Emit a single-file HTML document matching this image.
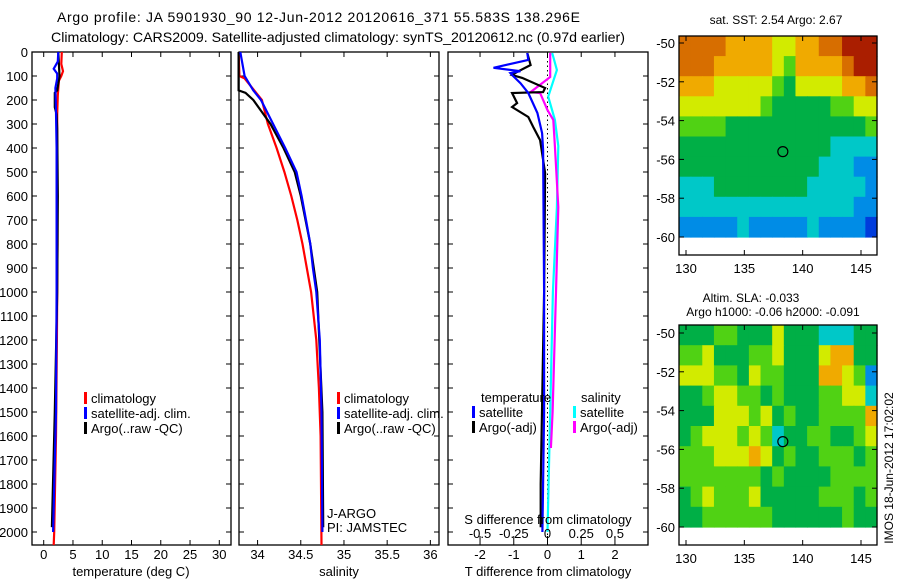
<!DOCTYPE html>
<html><head><meta charset="utf-8"><style>
html,body{margin:0;padding:0;background:#fff;}
svg{display:block;font-family:"Liberation Sans","DejaVu Sans",sans-serif;}
</style></head><body>
<svg id="fig" width="900" height="580" viewBox="0 0 900 580" xmlns="http://www.w3.org/2000/svg">
<rect width="900" height="580" fill="#fff"/>
<text x="57" y="22" font-size="14" textLength="523" lengthAdjust="spacing">Argo profile: JA 5901930_90 12-Jun-2012 20120616_371 55.583S 138.296E</text>
<text x="51" y="42" font-size="14" textLength="574" lengthAdjust="spacingAndGlyphs">Climatology: CARS2009. Satellite-adjusted climatology: synTS_20120612.nc (0.97d earlier)</text>
<g id="g"></g>
</svg>
<script>
// ---- data ----
const tClimDepth=[0,50,80,100,120,180,260,400,800,1200,1600,2000,2054];
const tClimVal=[3.1,3.0,3.3,3.0,2.6,2.4,2.3,2.3,2.35,2.25,2.1,1.8,1.7];
const tSatDepth=[0,40,70,90,110,150,250,400,1000,1500,2000];
const tSatVal=[2.5,2.4,1.7,2.3,2.3,2.0,2.1,2.2,2.2,2.1,1.6];
const tArgoDepth=[0,50,100,160,170,230,260,320,600,1000,1500,1980];
const tArgoVal=[2.5,2.6,2.7,2.3,1.9,1.9,2.2,2.3,2.4,2.3,1.9,1.4];
const sClimDepth=[0,100,110,200,300,400,500,600,700,800,900,1000,1200,1400,1600,2054];
const sClimVal=[33.78,33.79,33.85,34.05,34.12,34.22,34.31,34.39,34.46,34.52,34.57,34.62,34.68,34.71,34.73,34.74];
const sSatDepth=[0,100,160,200,300,400,500,600,700,800,900,1000,1200,1500,2000];
const sSatVal=[33.80,33.85,33.95,34.04,34.18,34.32,34.45,34.51,34.56,34.61,34.64,34.68,34.72,34.74,34.75];
const sArgoDepth=[0,160,170,200,250,300,400,500,600,800,1000,1500,1980];
const sArgoVal=[33.78,33.78,33.86,33.95,34.05,34.15,34.30,34.43,34.50,34.61,34.69,34.75,34.76];
const dTSatDepth=[4,33,66,80,88,96,130,171,254,338,408,1000,1500,2000];
const dTSatVal=[-0.6,-0.57,-1.6,-0.8,-1.1,-1.05,-0.8,-0.57,-0.3,-0.16,-0.13,-0.1,-0.1,-0.15];
const dTArgoDepth=[4,54,83,96,108,150,167,171,213,229,271,313,367,504,1000,1800,1980];
const dTArgoVal=[-0.6,-0.5,-0.9,-1.05,-0.75,-0.07,-0.13,-1.05,-0.9,-1.05,-0.57,-0.42,-0.22,-0.07,-0.1,-0.2,-0.2];
const dSSatDepth=[4,75,186,283,392,646,1000,1500,2000];
const dSSatVal=[0.035,0.07,0.005,0.055,0.08,0.07,0.04,0.02,0.0];
const dSArgoDepth=[4,104,167,171,242,283,392,646,1000,1500,1650];
const dSArgoVal=[0.02,0.02,-0.125,-0.055,0,0.043,0.055,0.08,0.063,0.038,0.025];
const depthTicks=[0,100,200,300,400,500,600,700,800,900,1000,1100,1200,1300,1400,1500,1600,1700,1800,1900,2000];
const tTicks=[0,5,10,15,20,25,30];
const sTicks=[34,34.5,35,35.5,36];
const dTTicks=[-2,-1,0,1,2];
const dSTicks=[-0.5,-0.25,0,0.25,0.5];
const sstGrid=["88887777667788999","88877777657777899","77766666546666778","66666665444445566","55554444444444445","44444444444443333","44444444444433322","33344444444333332","33333333333333322","22222322222322221"];
const slaGrid=["44455444644433344","55644455644467744","66655465544477652","44566554544455663","44466656454455557","45666565344554456","55566676454455545","55555554544445555","45655564444455545","44555555444444544"];
const lonTicks=[130,135,140,145];
const latTicks=[-50,-52,-54,-56,-58,-60];
const floatLon=138.3, floatLat=-55.6;
// ---- drawing ----
const NS="http://www.w3.org/2000/svg";
const G=document.getElementById('g');
function el(tag,attrs,parent,text){const e=document.createElementNS(NS,tag);for(const k in attrs)e.setAttribute(k,attrs[k]);if(text!==undefined)e.textContent=text;(parent||G).appendChild(e);return e;}
const top0=52,bot0=545;
const yD=d=>top0+d*0.24;
function panel(name,x0,x1,xmin,xmax){
  const g=el('g',{});
  
  
  return {g,x0,x1,xs:v=>x0+(v-xmin)/(xmax-xmin)*(x1-x0)};
}
function line(p,depth,vals,color,name,xs){
  const f=xs||p.xs;
  const pts=depth.map((d,i)=>f(vals[i]).toFixed(1)+','+yD(d).toFixed(1)).join(' ');
  const e=el('polyline',{points:pts,fill:'none',stroke:color,'stroke-width':2.2},p.g);
  
  
}
function frame(p,ticks,ylabels){
  el('rect',{x:p.x0,y:top0,width:p.x1-p.x0,height:bot0-top0,fill:'none',stroke:'#000','stroke-width':1.3},p.g);
  depthTicks.forEach(d=>{
    el('line',{x1:p.x0,x2:p.x0+5,y1:yD(d),y2:yD(d),stroke:'#000'},p.g);
    el('line',{x1:p.x1,x2:p.x1-5,y1:yD(d),y2:yD(d),stroke:'#000'},p.g);
    if(ylabels){const t=el('text',{x:p.x0-4,y:yD(d)+5,'font-size':13,'text-anchor':'end'},p.g,String(d));
      }
  });
  ticks.forEach(v=>{
    el('line',{x1:p.xs(v),x2:p.xs(v),y1:top0,y2:top0+5,stroke:'#000'},p.g);
    el('line',{x1:p.xs(v),x2:p.xs(v),y1:bot0,y2:bot0-5,stroke:'#000'},p.g);
    const t=el('text',{x:p.xs(v),y:559,'font-size':13,'text-anchor':'middle'},p.g,String(v));
    
  });
}
function legend(p,x,items,y0){
  items.forEach((it,i)=>{
    const y=y0+i*15;
    el('rect',{x:x,y:y-11,width:3,height:12,fill:it[1]},p.g);
    const t=el('text',{x:x+7,y:y,'font-size':13},p.g,it[0]);
    
  });
}
// panel 1 temperature
const p1=panel('temperature-panel',32,231,-2,32);
frame(p1,tTicks,true);
line(p1,tClimDepth,tClimVal,'#f00','temp-climatology-line');
line(p1,tArgoDepth,tArgoVal,'#000','temp-argo-line');
line(p1,tSatDepth,tSatVal,'#00f','temp-satellite-line');
legend(p1,84,[['climatology','#f00'],['satellite-adj. clim.','#00f'],['Argo(..raw -QC)','#000']],403);
el('text',{x:131,y:576,'font-size':13,'text-anchor':'middle',},p1.g,'temperature (deg C)');
// panel 2 salinity
const p2=panel('salinity-panel',239,439,33.785,36.1);
frame(p2,sTicks,false);
line(p2,sClimDepth,sClimVal,'#f00','sal-climatology-line');
line(p2,sArgoDepth,sArgoVal,'#000','sal-argo-line');
line(p2,sSatDepth,sSatVal,'#00f','sal-satellite-line');
legend(p2,337,[['climatology','#f00'],['satellite-adj. clim.','#00f'],['Argo(..raw -QC)','#000']],403);
el('text',{x:327,y:518,'font-size':13,},p2.g,'J-ARGO');
el('text',{x:327,y:532,'font-size':13,},p2.g,'PI: JAMSTEC');
el('text',{x:339,y:576,'font-size':13,'text-anchor':'middle',},p2.g,'salinity');
// panel 3 differences
const p3=panel('difference-panel',448,648,-2.95,2.98);
frame(p3,dTTicks,false);
const sxs=v=>p3.xs(v*4);
el('line',{x1:p3.xs(0),x2:p3.xs(0),y1:top0,y2:bot0,stroke:'#000','stroke-dasharray':'1.5,3'},p3.g);
line(p3,dSSatDepth,dSSatVal,'#0ff','sdiff-satellite-line',sxs);
line(p3,dSArgoDepth,dSArgoVal,'#f0f','sdiff-argo-line',sxs);
line(p3,dTArgoDepth,dTArgoVal,'#000','tdiff-argo-line');
line(p3,dTSatDepth,dTSatVal,'#00f','tdiff-satellite-line');
el('text',{x:481,y:402,'font-size':13},p3.g,'temperature');
el('text',{x:581,y:402,'font-size':13},p3.g,'salinity');
legend(p3,472,[['satellite','#00f'],['Argo(-adj)','#000']],417);
legend(p3,573,[['satellite','#0ff'],['Argo(-adj)','#f0f']],417);
dSTicks.forEach(v=>{
  el('line',{x1:sxs(v),x2:sxs(v),y1:bot0-9,y2:bot0-5,stroke:'#000'},p3.g);
  const t=el('text',{x:sxs(v),y:538,'font-size':13,'text-anchor':'middle'},p3.g,String(v));
  
});
el('text',{x:548,y:524,'font-size':13,'text-anchor':'middle',},p3.g,'S difference from climatology');
el('text',{x:548,y:576,'font-size':13,'text-anchor':'middle',},p3.g,'T difference from climatology');
// maps
const cmap=['#0000a0','#003cdc','#008ce6','#00c8c8','#00af46','#50d214','#d2eb00','#f0aa00','#d76e00','#aa1e00'];
function map(name,grid,boxTop,boxBot,lat50y,lat60y,titles){
  const g=el('g',{});
  
  
  const x0=679,x1=877;
  const lx=lon=>686+(lon-130)*(175/15);
  const ly=lat=>lat50y+(-50-lat)*((lat60y-lat50y)/10);
  const nr=grid.length,nc=grid[0].length;
  const cw=(x1-x0)/nc,ch=(lat60y-boxTop)/nr;
  grid.forEach((row,r)=>{for(let c=0;c<nc;c++){
    const cell=el('rect',{x:x0+c*cw,y:boxTop+r*ch,width:cw+0.6,height:ch+0.6,fill:cmap[+row[c]]},g);
    
    
  }});
  el('rect',{x:x0,y:boxTop,width:x1-x0,height:boxBot-boxTop,fill:'none',stroke:'#000','stroke-width':1.3},g);
  lonTicks.forEach(v=>{
    el('line',{x1:lx(v),x2:lx(v),y1:boxTop,y2:boxTop+5,stroke:'#000'},g);
    el('line',{x1:lx(v),x2:lx(v),y1:boxBot,y2:boxBot-5,stroke:'#000'},g);
    el('text',{x:lx(v),y:boxBot+18,'font-size':13,'text-anchor':'middle'},g,String(v));
  });
  latTicks.forEach(v=>{
    el('line',{x1:x0,x2:x0+5,y1:ly(v),y2:ly(v),stroke:'#000'},g);
    el('line',{x1:x1,x2:x1-5,y1:ly(v),y2:ly(v),stroke:'#000'},g);
    el('text',{x:x0-4,y:ly(v)+5,'font-size':13,'text-anchor':'end'},g,String(v));
  });
  const c=el('circle',{cx:lx(floatLon),cy:ly(floatLat),r:5,fill:'none',stroke:'#000','stroke-width':1.2},g);
  
  
  titles.forEach(t=>el('text',{x:t[1],y:t[2],'font-size':12,'text-anchor':'middle'},g,t[0]));
}
map('sst-map',sstGrid,36,255,43,237,[['sat. SST: 2.54  Argo: 2.67',776,24]]);
map('sla-map',slaGrid,325,545,333,527,[['Altim. SLA: -0.033',751,302],['Argo h1000: -0.06 h2000: -0.091',773,316]]);
el('text',{x:0,y:0,'font-size':12,'text-anchor':'middle',transform:'translate(893,468) rotate(-90)',},G,'IMOS 18-Jun-2012 17:02:02');
</script>
</body></html>
